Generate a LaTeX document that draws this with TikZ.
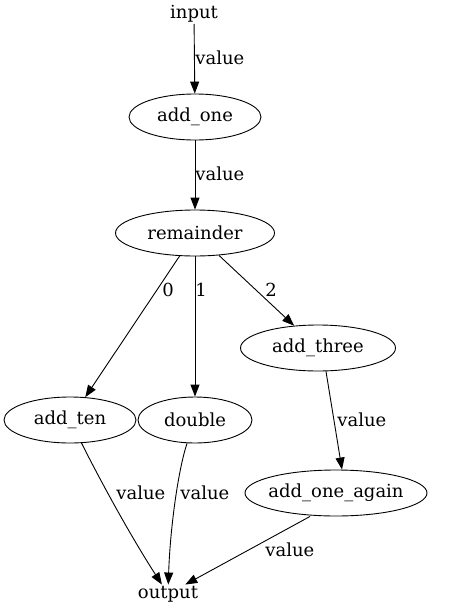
\documentclass[tikz,border=0pt]{standalone}
\usepackage{fontspec}
\setmainfont{DejaVu Serif}
\usetikzlibrary{shapes.geometric,arrows.meta}
\begin{document}
\begin{tikzpicture}[x=1pt,y=-1pt, font=\fontsize{18}{20}\selectfont, line width=0.9pt,
  fn/.style={ellipse, draw, inner sep=0pt, minimum height=46pt},
  lbl/.style={inner sep=0pt, anchor=west},
  flow/.style={-{Triangle[length=12pt,width=9pt]}}]
\useasboundingbox (0,0) rectangle (460,611);
\node[inner sep=1pt] (input) at (194,14){input};
\node[fn, minimum width=132pt] (addone) at (195,117){add\_one};
\node[fn, minimum width=159pt] (remainder) at (195,233){remainder};
\node[fn, minimum width=155pt] (addthree) at (318,348){add\_three};
\node[fn, minimum width=132pt] (addten) at (70,420){add\_ten};
\node[fn, minimum width=114pt] (double) at (195,420){double};
\node[fn, minimum width=182pt, inner xsep=-3.5pt] (addoneagain) at (336,493){add\_one\_again};
\node[inner sep=1pt] (output) at (168,594){output};
\draw[flow](input) -- (addone);
\draw[flow](addone) -- (remainder);
\draw[flow](remainder) -- (addten);
\draw[flow](remainder) -- (double);
\draw[flow](remainder) -- (addthree);
\draw[flow]([xshift=8pt]addthree.south) -- ([xshift=6pt]addoneagain.north);
\draw[flow](addten) .. controls (100,480) and (130,535) .. (output);
\draw[flow](double) .. controls (178,470) and (170,530) .. (output);
\draw[flow]([xshift=-26pt]addoneagain.south) -- (output);
\node[lbl] (lin) at (195,58){value};
\node[lbl] (lone) at (195,174){value};
\node[inner sep=0pt] (lzero) at (168,290){0};
\node[inner sep=0pt] (lone2) at (201,290){1};
\node[inner sep=0pt] (ltwo) at (271,290){2};
\node[lbl] (lthree) at (337,420){value};
\node[lbl] (lten) at (116,493){value};
\node[lbl] (ldouble) at (180,493){value};
\node[lbl] (lagain) at (265,550){value};
\end{tikzpicture}
\end{document}
